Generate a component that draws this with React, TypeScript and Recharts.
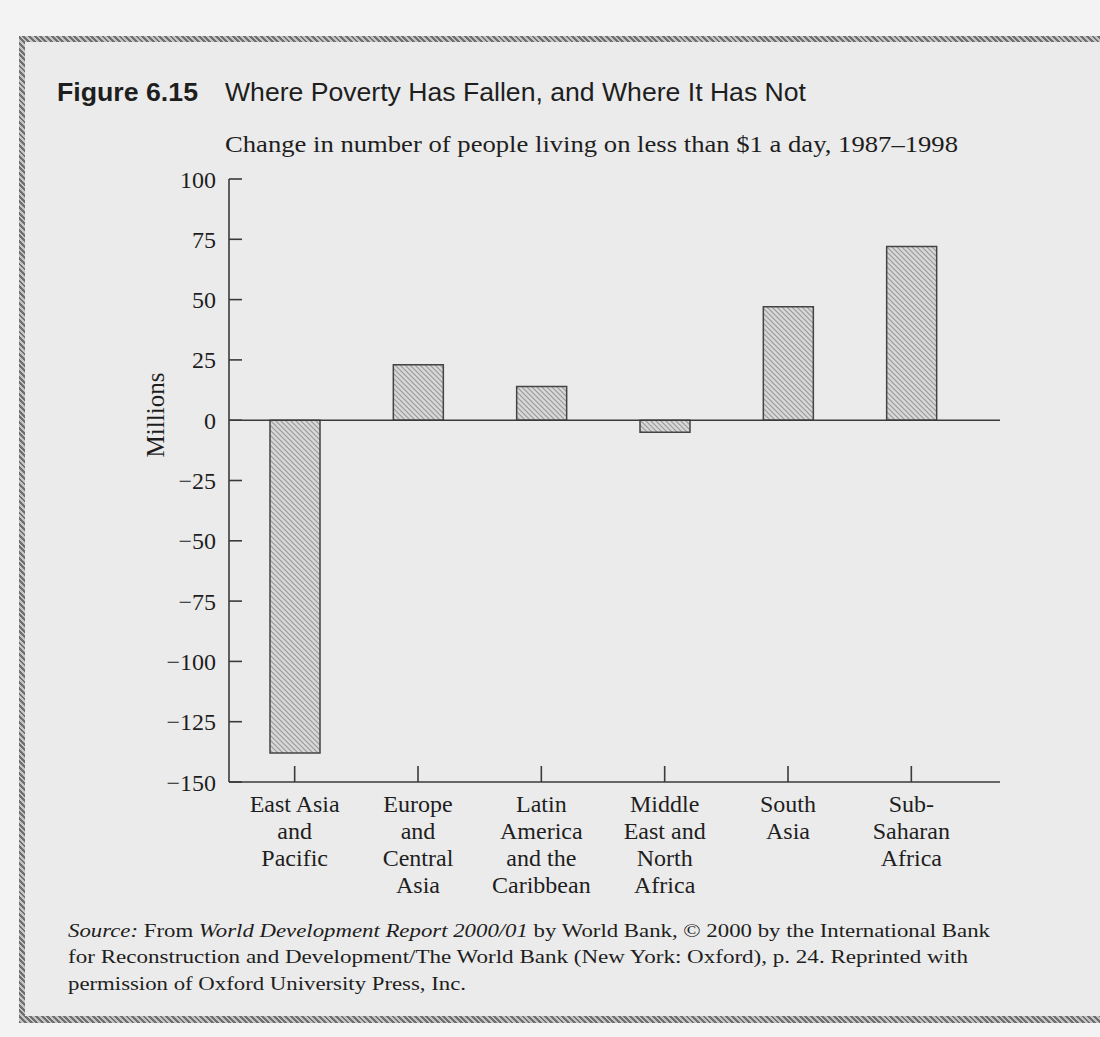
import React from 'react';
import { BarChart, Bar, XAxis, YAxis, ReferenceLine } from 'recharts';

const categories = [
  'East Asia and Pacific',
  'Europe and Central Asia',
  'Latin America and the Caribbean',
  'Middle East and North Africa',
  'South Asia',
  'Sub-Saharan Africa',
];
const categoryLines = [
  ['East Asia', 'and', 'Pacific'],
  ['Europe', 'and', 'Central', 'Asia'],
  ['Latin', 'America', 'and the', 'Caribbean'],
  ['Middle', 'East and', 'North', 'Africa'],
  ['South', 'Asia'],
  ['Sub-', 'Saharan', 'Africa'],
];
const changeMillions = [-138, 23, 14, -5, 47, 72];
const yTicks = [-150, -125, -100, -75, -50, -25, 0, 25, 50, 75, 100];

const figureLabel = 'Figure 6.15';
const titleText = 'Where Poverty Has Fallen, and Where It Has Not';
const subtitleText = 'Change in number of people living on less than $1 a day, 1987\u20131998';
const yAxisLabel = 'Millions';

const data = categories.map((c, i) => ({ region: c, value: changeMillions[i] }));

const INK = '#1e1e1e';
const SERIF = '"Liberation Serif", "Times New Roman", serif';
const SANS = '"Liberation Sans", Arial, sans-serif';

const CatTick = (props: any) => {
  const { x, y, payload } = props;
  const idx = categories.indexOf(payload.value);
  const lines = idx >= 0 ? categoryLines[idx] : [payload.value];
  return (
    <text x={x} y={y} textAnchor="middle" fill={INK} fontFamily={SERIF} fontSize={24}>
      {lines.map((l: string, i: number) => (
        <tspan key={i} x={x} dy={i === 0 ? 0 : 27}>
          {l}
        </tspan>
      ))}
    </text>
  );
};

const fmt = (v: number) => (v < 0 ? '\u2212' + Math.abs(v) : String(v));

export default function App() {
  return (
    <div style={{ position: 'absolute', left: 0, top: 0, width: 1100, height: 1037, background: '#f3f3f3', overflow: 'hidden' }}>
      {/* frame */}
      <div
        style={{
          position: 'absolute',
          left: 19,
          top: 36,
          width: 1100,
          height: 987,
          background: 'repeating-linear-gradient(45deg, #6f6f6f 0px, #6f6f6f 2px, #c4c4c4 2px, #c4c4c4 4px)',
        }}
      >
        <div style={{ position: 'absolute', left: 6, top: 6, right: 6, bottom: 7, background: '#ebebeb' }} />
      </div>

      <div style={{ position: 'absolute', left: 0, top: 0 }}>
        <BarChart width={1100} height={1037} data={data} margin={{ top: 179, right: 100, bottom: 135, left: 149 }}>
          <defs>
            <pattern id="hatch" patternUnits="userSpaceOnUse" width="5" height="5">
              <rect width="5" height="5" fill="#d8d8d8" />
              <path d="M-1,-1 L6,6 M-1,4 L1,6 M4,-1 L6,1" stroke="#9a9a9a" strokeWidth="1.2" />
            </pattern>
          </defs>
          <XAxis
            dataKey="region"
            type="category"
            interval={0}
            padding={{ left: 4, right: 27 }}
            height={120}
            tickSize={-16}
            tickMargin={46}
            tick={<CatTick />}
            axisLine={{ stroke: '#3a3a3a', strokeWidth: 1.6 }}
            tickLine={{ stroke: '#3a3a3a', strokeWidth: 1.6 }}
          />
          <YAxis
            type="number"
            domain={[-150, 100]}
            ticks={yTicks}
            interval={0}
            width={80}
            tickSize={-13}
            tickMargin={26}
            tickFormatter={fmt}
            tick={{ fill: INK, fontSize: 24, fontFamily: SERIF }}
            axisLine={{ stroke: '#3a3a3a', strokeWidth: 1.6 }}
            tickLine={{ stroke: '#3a3a3a', strokeWidth: 1.6 }}
          />
          <Bar
            dataKey="value"
            fill="url(#hatch)"
            stroke="#444"
            strokeWidth={1.5}
            barSize={50}
            isAnimationActive={false}
          />
          <ReferenceLine y={0} stroke="#3a3a3a" strokeWidth={1.6} />
        </BarChart>
      </div>

      <svg width={1100} height={1037} style={{ position: 'absolute', left: 0, top: 0, pointerEvents: 'none' }}>
        <text x={57} y={101} fontFamily={SANS} fontWeight="bold" fontSize={25} fill={INK} textLength={141} lengthAdjust="spacingAndGlyphs">
          {figureLabel}
        </text>
        <text x={225} y={101} fontFamily={SANS} fontSize={25} fill={INK} textLength={581} lengthAdjust="spacingAndGlyphs">
          {titleText}
        </text>
        <text x={225} y={152} fontFamily={SERIF} fontSize={23} fill={INK} textLength={733} lengthAdjust="spacingAndGlyphs">
          {subtitleText}
        </text>
        <text transform="translate(155,415) rotate(-90)" textAnchor="middle" dominantBaseline="central" fontFamily={SERIF} fontSize={25} fill={INK}>
          {yAxisLabel}
        </text>
        <text x={68} y={937} fontFamily={SERIF} fontSize={19} fill={INK} textLength={922} lengthAdjust="spacingAndGlyphs">
          <tspan fontStyle="italic">Source:</tspan> From <tspan fontStyle="italic">World Development Report 2000/01</tspan> by World Bank, © 2000 by the International Bank
        </text>
        <text x={68} y={963} fontFamily={SERIF} fontSize={19} fill={INK} textLength={900} lengthAdjust="spacingAndGlyphs">
          for Reconstruction and Development/The World Bank (New York: Oxford), p. 24. Reprinted with
        </text>
        <text x={68} y={990} fontFamily={SERIF} fontSize={19} fill={INK} textLength={398} lengthAdjust="spacingAndGlyphs">
          permission of Oxford University Press, Inc.
        </text>
      </svg>
    </div>
  );
}
